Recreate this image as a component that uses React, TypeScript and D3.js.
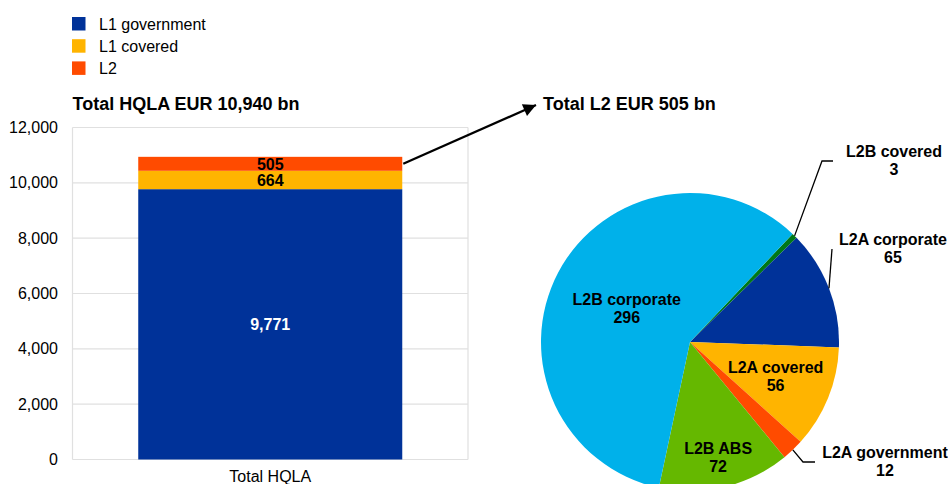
import React, { useEffect, useRef } from 'react';
import * as d3 from 'd3';

// --- data ---
const categories = ['Total HQLA'];
const barSeries = ['L1 government', 'L1 covered', 'L2'];
const barValues = [9771, 664, 505];
const barColors = ['#003299', '#FFB400', '#FF4B00'];
const barLabelColors = ['#ffffff', '#000000', '#000000'];
const yTicks = [0, 2000, 4000, 6000, 8000, 10000, 12000];

const pieNames = ['L2B covered', 'L2A corporate', 'L2A covered', 'L2A government', 'L2B ABS', 'L2B corporate'];
const pieValues = [3, 65, 56, 12, 72, 296];
const pieColors = ['#007816', '#003299', '#FFB400', '#FF4B00', '#65B800', '#00B1EA'];

const barTitle = 'Total HQLA EUR 10,940 bn';
const pieTitle = 'Total L2 EUR 505 bn';

const W = 948;
const H = 484;
const FONT = '"Liberation Sans", Arial, sans-serif';
const FS = '16px';

// label placement for the pie (inside: radius factor; outside: offset from centre + leader elbow)
const pieLabelLayout: Record<string, any> = {
  'L2B corporate': { inside: true, k: 0.48 },
  'L2A covered': { inside: true, k: 0.62 },
  'L2B ABS': { inside: true, k: 0.8 },
  'L2B covered': { inside: false, lx: 204, ly: -181, elbow: [132, -181], end: [143, -181] },
  'L2A corporate': { inside: false, lx: 203, ly: -93, elbow: [142, -93], end: null },
  'L2A government': { inside: false, lx: 195, ly: 120, elbow: [113, 120], end: [125, 120] },
};

const App = () => {
  const svgRef = useRef<SVGSVGElement>(null);

  useEffect(() => {
    const svg = d3.select(svgRef.current);
    svg.selectAll('*').remove();
    svg.append('rect').attr('width', W).attr('height', H).attr('fill', '#fff');

    // --- legend ---
    const legend = svg.append('g').attr('transform', 'translate(72, 17)');
    barSeries.forEach((s, i) => {
      const g = legend.append('g').attr('transform', `translate(0, ${i * 22.2})`);
      g.append('rect').attr('width', 13.5).attr('height', 13.5).attr('fill', barColors[i]);
      g.append('text')
        .attr('x', 27).attr('y', 12.8)
        .style('font-family', FONT).style('font-size', FS).style('fill', '#000')
        .text(s);
    });

    // --- bar chart ---
    const plot = { left: 72.5, right: 468, top: 127.5, bottom: 459.5 };
    const y = d3.scaleLinear().domain([0, 12000]).range([plot.bottom, plot.top]);
    const x = d3.scaleBand().domain(categories).range([plot.left, plot.right]).paddingInner(0).paddingOuter(0.249);

    svg.append('text')
      .attr('x', plot.left).attr('y', 110)
      .style('font-family', FONT).style('font-size', '18px').style('font-weight', 'bold')
      .text(barTitle);

    const grid = svg.append('g');
    grid.selectAll('line').data(yTicks).enter().append('line')
      .attr('x1', plot.left).attr('x2', plot.right)
      .attr('y1', d => y(d)).attr('y2', d => y(d))
      .attr('stroke', '#e0e0e0').attr('stroke-width', 1.2);
    grid.append('line').attr('x1', plot.left).attr('x2', plot.left).attr('y1', plot.top).attr('y2', plot.bottom)
      .attr('stroke', '#e0e0e0').attr('stroke-width', 1.2);
    grid.append('line').attr('x1', plot.right).attr('x2', plot.right).attr('y1', plot.top).attr('y2', plot.bottom)
      .attr('stroke', '#e0e0e0').attr('stroke-width', 1.2);

    svg.append('g').selectAll('text').data(yTicks).enter().append('text')
      .attr('x', 58).attr('y', d => y(d)).attr('dy', '0.35em')
      .attr('text-anchor', 'end')
      .style('font-family', FONT).style('font-size', FS)
      .text(d => d3.format(',')(d));

    let acc = 0;
    const stacked = barValues.map((v, i) => {
      const s = { y0: acc, y1: acc + v, v, i };
      acc += v;
      return s;
    });
    const bars = svg.append('g');
    stacked.forEach(s => {
      bars.append('rect')
        .attr('x', x(categories[0])!).attr('width', x.bandwidth())
        .attr('y', y(s.y1)).attr('height', y(s.y0) - y(s.y1))
        .attr('fill', barColors[s.i]);
      bars.append('text')
        .attr('x', x(categories[0])! + x.bandwidth() / 2)
        .attr('y', (y(s.y0) + y(s.y1)) / 2).attr('dy', '0.36em')
        .attr('text-anchor', 'middle')
        .style('font-family', FONT).style('font-size', FS).style('font-weight', 'bold')
        .style('fill', barLabelColors[s.i])
        .text(d3.format(',')(s.v));
    });

    svg.append('text')
      .attr('x', x(categories[0])! + x.bandwidth() / 2).attr('y', 482)
      .attr('text-anchor', 'middle')
      .style('font-family', FONT).style('font-size', FS)
      .text(categories[0]);

    // --- arrow from L2 segment to pie title ---
    const l2 = stacked[2];
    const defs = svg.append('defs');
    defs.append('marker')
      .attr('id', 'arrowhead').attr('viewBox', '0 0 10 10')
      .attr('refX', 10).attr('refY', 5)
      .attr('markerWidth', 6.5).attr('markerHeight', 5.5)
      .attr('markerUnits', 'strokeWidth')
      .attr('orient', 'auto')
      .append('path').attr('d', 'M0,0 L10,5 L0,10 Z').attr('fill', '#000');
    svg.append('line')
      .attr('x1', x(categories[0])! + x.bandwidth() + 1)
      .attr('y1', (y(l2.y0) + y(l2.y1)) / 2)
      .attr('x2', 536).attr('y2', 105)
      .attr('stroke', '#000').attr('stroke-width', 2.3)
      .attr('marker-end', 'url(#arrowhead)');

    // --- pie ---
    svg.append('text')
      .attr('x', 543).attr('y', 110)
      .style('font-family', FONT).style('font-size', '18px').style('font-weight', 'bold')
      .text(pieTitle);

    const cx = 690, cy = 342, r = 149;
    const startA = (43.5 * Math.PI) / 180;
    const pie = d3.pie<number>().sort(null).value(d => d).startAngle(startA).endAngle(startA + 2 * Math.PI);
    const arcs = pie(pieValues);
    const arc = d3.arc<d3.PieArcDatum<number>>().innerRadius(0).outerRadius(r);
    const pg = svg.append('g').attr('transform', `translate(${cx}, ${cy})`);

    pg.selectAll('path').data(arcs).enter().append('path')
      .attr('d', arc as any)
      .attr('fill', (d, i) => pieColors[i]);

    arcs.forEach((a, i) => {
      const name = pieNames[i];
      const lay = pieLabelLayout[name];
      const mid = (a.startAngle + a.endAngle) / 2;
      let lx: number, ly: number;
      if (lay.inside) {
        lx = Math.sin(mid) * r * lay.k;
        ly = -Math.cos(mid) * r * lay.k;
      } else {
        lx = lay.lx;
        ly = lay.ly;
        const pts: [number, number][] = [[Math.sin(mid) * r, -Math.cos(mid) * r], lay.elbow];
        if (lay.end) pts.push(lay.end);
        pg.append('path')
          .attr('d', d3.line()(pts))
          .attr('fill', 'none').attr('stroke', '#000').attr('stroke-width', 1.3);
      }
      const t = pg.append('text')
        .attr('text-anchor', 'middle')
        .style('font-family', FONT).style('font-size', FS).style('font-weight', 'bold');
      t.append('tspan').attr('x', lx).attr('y', ly - 4).text(name);
      t.append('tspan').attr('x', lx).attr('y', ly + 14).text(String(pieValues[i]));
    });
  }, []);

  return (
    <div style={{ position: 'absolute', left: 0, top: 0 }}>
      <svg ref={svgRef} width={W} height={H} style={{ display: 'block' }} />
    </div>
  );
};

export default App;
